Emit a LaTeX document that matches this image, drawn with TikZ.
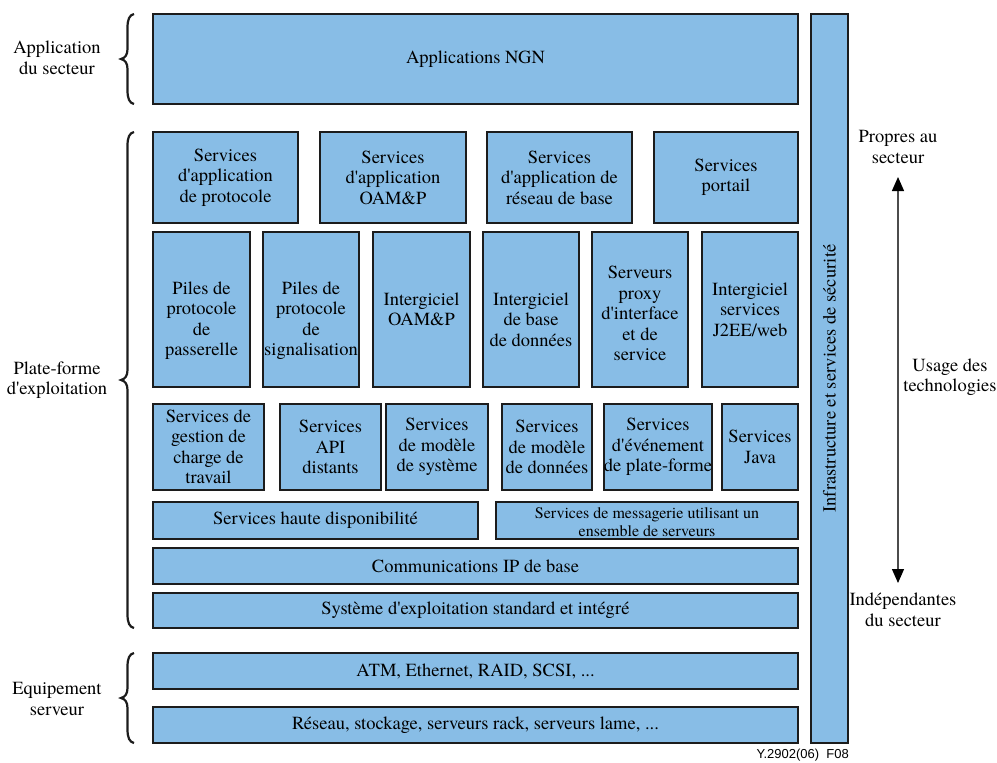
\documentclass[tikz,border=0pt]{standalone}
\usepackage{fontspec}
\setmainfont{TeX Gyre Termes}
\newfontfamily\ngserif{TeX Gyre Termes}
\newfontfamily\labelsans{Liberation Sans}
\usetikzlibrary{arrows.meta}
\definecolor{boxblue}{RGB}{136,189,230}
\definecolor{edgegray}{RGB}{28,28,28}
\newcommand\ap{\textquotesingle}
\tikzset{
  blk/.style={draw=edgegray, line width=2.7pt, fill=boxblue, inner sep=0pt, outer sep=0pt},
  txt/.style={align=center, inner sep=0pt, font=\ngserif\fontsize{18.5}{20.5}\selectfont},
  smalltxt/.style={align=center, inner sep=0pt, font=\ngserif\fontsize{16}{17.8}\selectfont},
  brc/.style={line width=2.2pt, draw=edgegray},
  tecarrow/.style={draw=gray!60!black, line width=1.3pt,
    {Triangle[width=12pt,length=14pt,color=black]}-{Triangle[width=12pt,length=14pt,color=black]}}
}
% style, name, x1, y1, x2, y2, dy, text
\newcommand\ngbox[8][txt]{%
  \pgfmathsetmacro\bw{#5-#3}%
  \pgfmathsetmacro\bh{#6-#4}%
  \node[blk, minimum width=\bw pt, minimum height=\bh pt] (#2) at ({(#3+#5)/2},{(#4+#6)/2}) {};%
  \node[#1] (#2-t) at ([yshift=-#7pt]#2.center) {#8};}
% top, bottom, middle
\newcommand\ngbrace[3]{%
  \draw[brc] (134,#1) .. controls (129.5,#1+1) and (127.5,#1+5) .. (127.5,#1+14)
    -- (127.5,#3-10) .. controls (127.5,#3-4) and (125,#3-1) .. (121,#3)
    .. controls (125,#3+1) and (127.5,#3+4) .. (127.5,#3+10)
    -- (127.5,#2-14) .. controls (127.5,#2-5) and (129.5,#2-1) .. (134,#2);}
\begin{document}
\begin{tikzpicture}[x=1pt,y=-1pt]
\useasboundingbox (0,0) rectangle (997,763);

% top
\ngbox{ngn}{153}{14}{798}{104}{0}{Applications NGN}
% row 2
\ngbox{r2a}{153}{132}{298}{223}{0}{Services\\d\ap application\\de protocole}
\ngbox{r2b}{320}{132}{466}{223}{0}{Services\\d\ap application\\OAM\&P}
\ngbox{r2c}{487}{132}{632}{223}{0}{Services\\d\ap application de\\réseau de base}
\ngbox{r2d}{654}{132}{798}{223}{0}{Services\\portail}
% row 3
\ngbox{r3a}{153}{232}{250}{387}{11}{Piles de\\protocole\\de\\passerelle}
\ngbox{r3b}{263}{232}{359}{387}{11}{Piles de\\protocole\\de\\signalisation}
\ngbox{r3c}{373}{232}{470}{387}{0}{Intergiciel\\OAM\&P}
\ngbox{r3d}{483}{232}{579}{387}{10}{Intergiciel\\de base\\de données}
\ngbox{r3e}{592}{232}{688}{387}{4}{Serveurs\\proxy\\d\ap interface\\et de\\service}
\ngbox{r3f}{702}{232}{798}{387}{0}{Intergiciel\\services\\J2EE/web}
% row 4
\ngbox{r4a}{153}{404}{264}{490}{0}{Services de\\gestion de\\charge de\\travail}
\ngbox{r4b}{280}{404}{381}{490}{0}{Services\\API\\distants}
\ngbox{r4c}{386}{404}{488}{490}{0}{Services\\de modèle\\de système}
\ngbox{r4d}{502}{404}{592}{490}{0}{Services\\de modèle\\de données}
\ngbox{r4e}{604}{404}{712}{490}{0}{Services\\d\ap événement\\de plate-forme}
\ngbox{r4f}{722}{404}{798}{490}{0}{Services\\Java}
% row 5
\ngbox{r5a}{153}{502}{478}{539}{0}{Services haute disponibilité}
\ngbox[smalltxt]{r5b}{496}{502}{798}{539}{1.5}{Services de messagerie utilisant un\\ensemble de serveurs}
% rows 6-9
\ngbox{r6}{153}{548}{798}{584}{0}{Communications IP de base}
\ngbox{r7}{153}{593}{798}{628}{0}{Système d\ap exploitation standard et intégré}
\ngbox{r8}{153}{653}{798}{689}{0}{ATM, Ethernet, RAID, SCSI, ...}
\ngbox{r9}{153}{707}{798}{743}{0}{Réseau, stockage, serveurs rack, serveurs lame, ...}
% vertical bar
\ngbox[txt,rotate=90]{sec}{811}{14}{848}{743}{0}{Infrastructure et services de sécurité}

% braces
\ngbrace{14}{104}{59}
\ngbrace{132}{628}{380}
\ngbrace{653}{743}{698}

% left labels
\node[txt] (lapp) at (57,58) {Application\\du secteur};
\node[txt] (lplat) at (57,380) {Plate-forme\\d\ap exploitation};
\node[txt] (lequip) at (57,699) {Equipement\\serveur};

% right labels and arrow
\node[txt] (lprop) at (898,147) {Propres au\\secteur};
\node[txt] (lusage) at (950,377) {Usage des\\technologies};
\node[txt] (lindep) at (903,610) {Indépendantes\\du secteur};
\coordinate (atop) at (898,177);
\coordinate (abot) at (898,583);
\draw[tecarrow] (atop) -- (abot);

\node[font=\labelsans\fontsize{13}{15}\selectfont, anchor=east, inner sep=0pt] (fig) at (849,755) {Y.2902(06)\ \ F08};
\end{tikzpicture}
\end{document}
